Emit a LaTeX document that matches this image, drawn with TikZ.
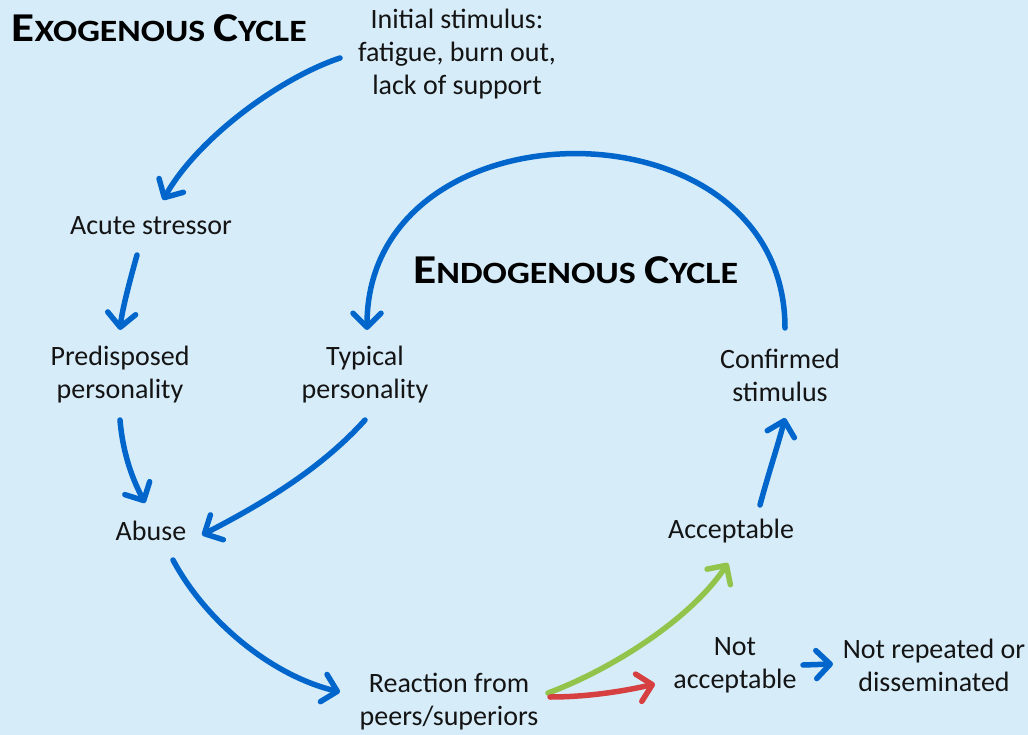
\documentclass[tikz,border=0pt]{standalone}
\usepackage{fontspec}
\usepackage{graphicx}
\setmainfont{Carlito}
\usetikzlibrary{arrows.meta,calc}
\definecolor{bgc}{RGB}{214,236,249}
\definecolor{arrblue}{RGB}{0,102,204}
\definecolor{arrgreen}{RGB}{146,196,76}
\definecolor{arrred}{RGB}{214,64,64}
\definecolor{txt}{RGB}{20,20,20}
\newcommand\mysc[2]{{\fontsize{41}{41}\selectfont #1}#2}
\begin{document}
\begin{tikzpicture}[x=1pt,y=-1pt,
  lbl/.style={align=center,font=\fontsize{28}{33}\selectfont,inner sep=0pt,text=txt},
  ttl/.style={font=\fontsize{31}{31}\selectfont\bfseries,inner sep=0pt,text=black},
  arr/.style={line width=5.5pt,line cap=round,draw=arrblue,
    -{Straight Barb[length=14pt,width=28pt,line cap=round,line join=round]}},
  ]
\fill[bgc] (0,0) rectangle (1028,735);
\useasboundingbox (0,0) rectangle (1028,735);

\node[ttl,anchor=west] (exo) at (11.5,28.5) {\resizebox{295pt}{\height}{\mysc{E}{XOGENOUS} \mysc{C}{YCLE}}};
\node[ttl,anchor=west] (endo) at (413,270) {\resizebox{325pt}{\height}{\mysc{E}{NDOGENOUS} \mysc{C}{YCLE}}};

\node[lbl] (init) at (457,54) {Initial stimulus:\\fatigue, burn out,\\lack of support};
\node[lbl] (acute) at (151,226) {Acute stressor};
\node[lbl] (predis) at (120,375) {Predisposed\\personality};
\node[lbl] (typical) at (365,375) {Typical\\personality};
\node[lbl] (confirmed) at (780,375) {Confirmed\\stimulus};
\node[lbl] (abuse) at (151,531) {Abuse};
\node[lbl] (accept) at (731,531) {Acceptable};
\node[lbl] (reaction) at (449,702) {Reaction from\\peers/superiors};
\node[lbl] (notacc) at (735,665) {Not\\acceptable};
\node[lbl] (notrep) at (934,665) {Not repeated or\\disseminated};

\draw[arr] ($(init)+(-117,4)$) .. controls +(-60,20) and +(35,-62) .. ($(acute)+(12,-26)$);
\draw[arr] ($(acute)+(-14,29)$) .. controls +(-7,25) and +(2,-20) .. ($(predis)+(0,-45)$);
\draw[arr] ($(predis)+(0,45)$) .. controls +(3,35) and +(-12,-23) .. ($(abuse)+(-6,-28)$);
\draw[arr] ($(typical)+(0,45)$) .. controls +(-45,50) and +(58,-30) .. ($(abuse)+(51,4)$);
\draw[arr] ($(confirmed)+(5,-47)$) .. controls +(0,-233) and +(0,-233) .. ($(typical)+(2,-45)$);
\draw[arr] ($(abuse)+(22,29)$) .. controls +(32,60) and +(-70,-17) .. ($(reaction)+(-109,-10)$);
\draw[arr,draw=arrgreen] ($(reaction)+(99,-9)$) .. controls +(62,-23) and +(-38,57) .. ($(accept)+(-3,32)$);
\draw[arr,draw=arrred] ($(reaction)+(101,-5)$) .. controls +(35,0) and +(-35,8) .. ($(notacc)+(-80,19)$);
\draw[arr] ($(notacc)+(68,0)$) -- ($(notrep)+(-101,-1)$);
\draw[arr] ($(accept)+(29,-26)$) .. controls +(8,-30) and +(-7,27) .. ($(confirmed)+(5,43)$);
\end{tikzpicture}
\end{document}
